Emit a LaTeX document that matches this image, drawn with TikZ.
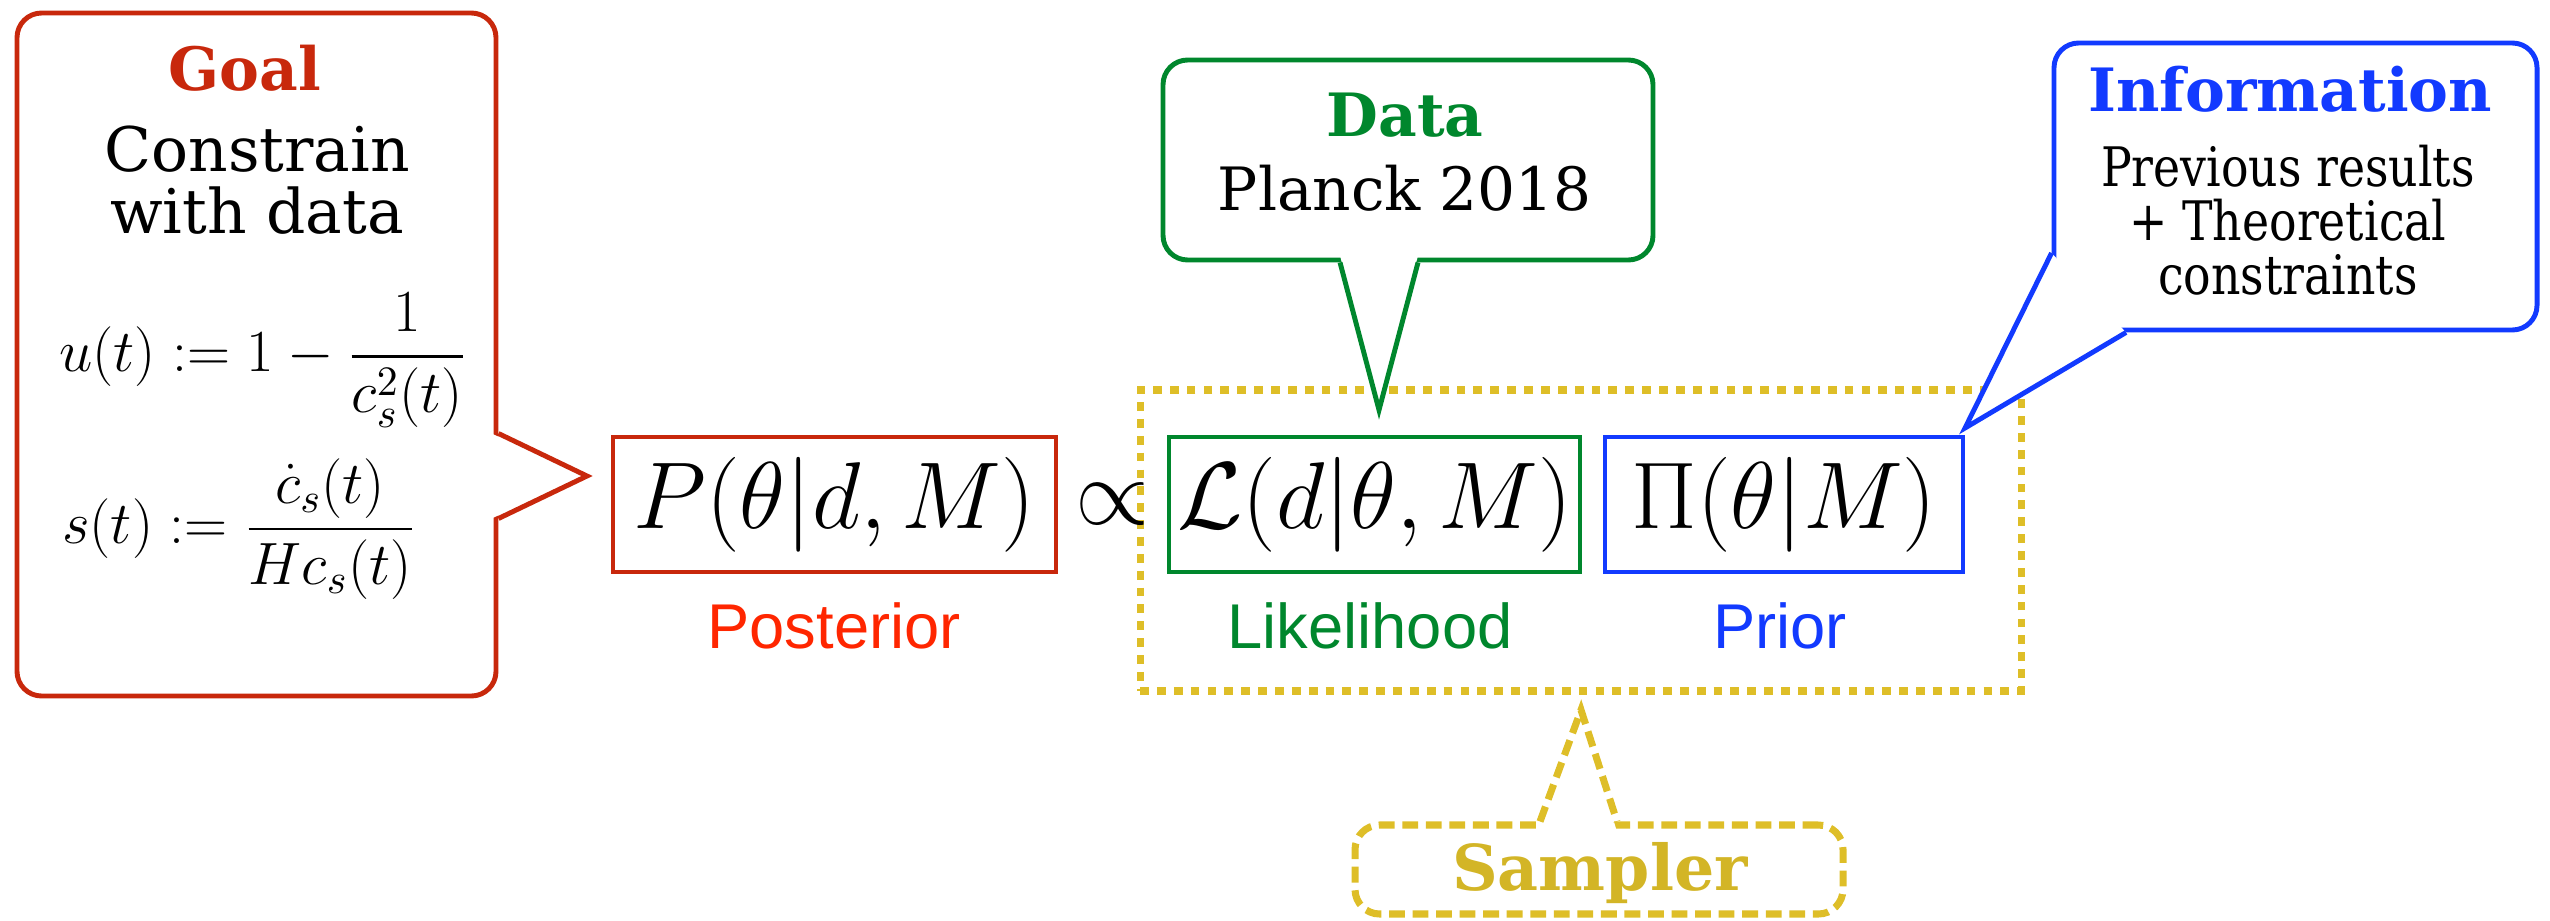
\RequirePackage{fix-cm}
\documentclass[tikz,border=0pt]{standalone}
\usepackage{amsmath}
\usepackage{fontspec}
\usepackage{tikz}
\usetikzlibrary{positioning,calc}

\newfontfamily\slabfont{DejaVu Serif}
\newfontfamily\narrowfont[FakeStretch=0.84]{DejaVu Serif}
\newfontfamily\labelfont{Liberation Sans}

\definecolor{goalred}{RGB}{200,40,12}
\definecolor{postred}{RGB}{255,38,0}
\definecolor{likgreen}{RGB}{0,135,45}
\definecolor{priblue}{RGB}{18,58,255}
\definecolor{sampyel}{RGB}{222,190,40}

\begin{document}
\begin{tikzpicture}[
    bub/.style={draw, line width=1.4pt, rounded corners=7pt, fill=white, inner sep=0pt},
    ptr/.style={line width=1.4pt, line join=miter},
    eqb/.style={draw, line width=1.2pt, inner sep=0pt, minimum height=1.35cm,
      font=\fontsize{27}{30}\selectfont},
    lbl/.style={font=\labelfont\fontsize{18}{20}\selectfont},
    hd/.style={font=\slabfont\bfseries\fontsize{17}{20}\selectfont},
    txt/.style={font=\slabfont\fontsize{17.5}{17.5}\selectfont, align=center, inner sep=1pt},
    dotbox/.style={draw=sampyel, line width=2pt, dash pattern=on 2.5pt off 2.3pt},
    dashbub/.style={draw=sampyel, line width=2pt, dash pattern=on 4.5pt off 2.2pt}
  ]
  \useasboundingbox (0,0) rectangle (25.5,9.2);

  % sampler frame round likelihood and prior
  \node[dotbox, minimum width=8.81cm, minimum height=3.01cm] (samp) at (15.805,3.795) {};

  % Bayes row
  \node[eqb, draw=goalred, minimum width=4.43cm] (post) at (8.345,4.155) {$P(\theta|d,M)$};
  \node[font=\fontsize{27}{30}\selectfont, inner sep=0pt] (prop) at (11.12,4.155) {$\propto$};
  \node[eqb, draw=likgreen, minimum width=4.11cm] (lik) at (13.745,4.155) {$\mathcal{L}(d|\theta,M)$};
  \node[eqb, draw=priblue, minimum width=3.58cm] (pri) at (17.84,4.155) {$\Pi(\theta|M)$\hspace{0.36cm}};
  \node[lbl, text=postred] (postl) at (8.34,2.94) {Posterior};
  \node[lbl, text=likgreen] (likl) at (13.70,2.94) {Likelihood};
  \node[lbl, text=priblue] (pril) at (17.80,2.94) {Prior};

  % goal bubble
  \node[bub, draw=goalred, minimum width=4.79cm, minimum height=6.83cm] (goal) at (2.565,5.655) {};
  \coordinate (gtip) at (5.87,4.44);
  \fill[white] ([xshift=-2pt,yshift=-0.79cm]goal.east) -- (gtip) -- ([xshift=-2pt,yshift=-1.64cm]goal.east) -- cycle;
  \draw[ptr, goalred] ([yshift=-0.79cm]goal.east) -- (gtip) -- ([yshift=-1.64cm]goal.east);
  \node[hd, text=goalred] (goalt) at (2.45,8.52) {Goal};
  \node[txt] (goalx) at (2.57,7.40) {Constrain\\with data};
  \node[anchor=west, inner sep=1pt, font=\fontsize{17}{20}\selectfont] (ueq) at (0.55,5.60)
    {$u(t) := 1-\dfrac{1}{c_s^2(t)}$};
  \node[anchor=west, inner sep=1pt, font=\fontsize{17}{20}\selectfont] (seq) at (0.58,3.91)
    {$s(t) := \dfrac{\dot c_s(t)}{H c_s(t)}$};

  % data bubble
  \node[bub, draw=likgreen, minimum width=4.90cm, minimum height=2.0cm] (data) at (14.08,7.60) {};
  \coordinate (dtip) at (13.79,5.10);
  \fill[white] ([xshift=-0.68cm,yshift=2pt]data.south) -- (dtip) -- ([xshift=0.10cm,yshift=2pt]data.south) -- cycle;
  \draw[ptr, likgreen] ([xshift=-0.68cm]data.south) -- (dtip) -- ([xshift=0.10cm]data.south);
  \node[hd, text=likgreen] (datat) at (14.05,8.05) {Data};
  \node[txt, font=\slabfont\fontsize{17}{17}\selectfont] (datax) at (14.05,7.32) {Planck 2018};

  % information bubble, pointer cuts the lower left corner
  \node[bub, draw=priblue, minimum width=4.83cm, minimum height=2.87cm] (info) at (22.955,7.335) {};
  \coordinate (itip) at (19.65,4.92);
  \fill[white] ([yshift=-0.665cm]info.west) -- (itip) -- ([xshift=-1.695cm]info.south) -- cycle;
  \draw[ptr, priblue] ([yshift=-0.665cm]info.west) -- (itip) -- ([xshift=-1.695cm]info.south);
  \node[hd, text=priblue] (infot) at (22.90,8.31) {Information};
  \node[txt, font=\narrowfont\fontsize{15.5}{15.4}\selectfont] (infox) at (22.88,7.00)
    {Previous results\\+ Theoretical\\constraints};

  % sampler bubble
  \node[bub, dashbub, minimum width=4.88cm, minimum height=0.89cm] (smp) at (15.99,0.505) {};
  \coordinate (stip) at (15.81,2.10);
  \fill[white] ([xshift=-0.59cm,yshift=-3pt]smp.north) -- (stip) -- ([xshift=0.18cm,yshift=-3pt]smp.north) -- cycle;
  \draw[dashbub] ([xshift=-0.59cm]smp.north) -- (stip) -- ([xshift=0.18cm]smp.north);
  \node[hd, text=sampyel!95!black, font=\slabfont\bfseries\fontsize{18}{20}\selectfont] (smpt) at (16.00,0.47) {Sampler};
\end{tikzpicture}
\end{document}
